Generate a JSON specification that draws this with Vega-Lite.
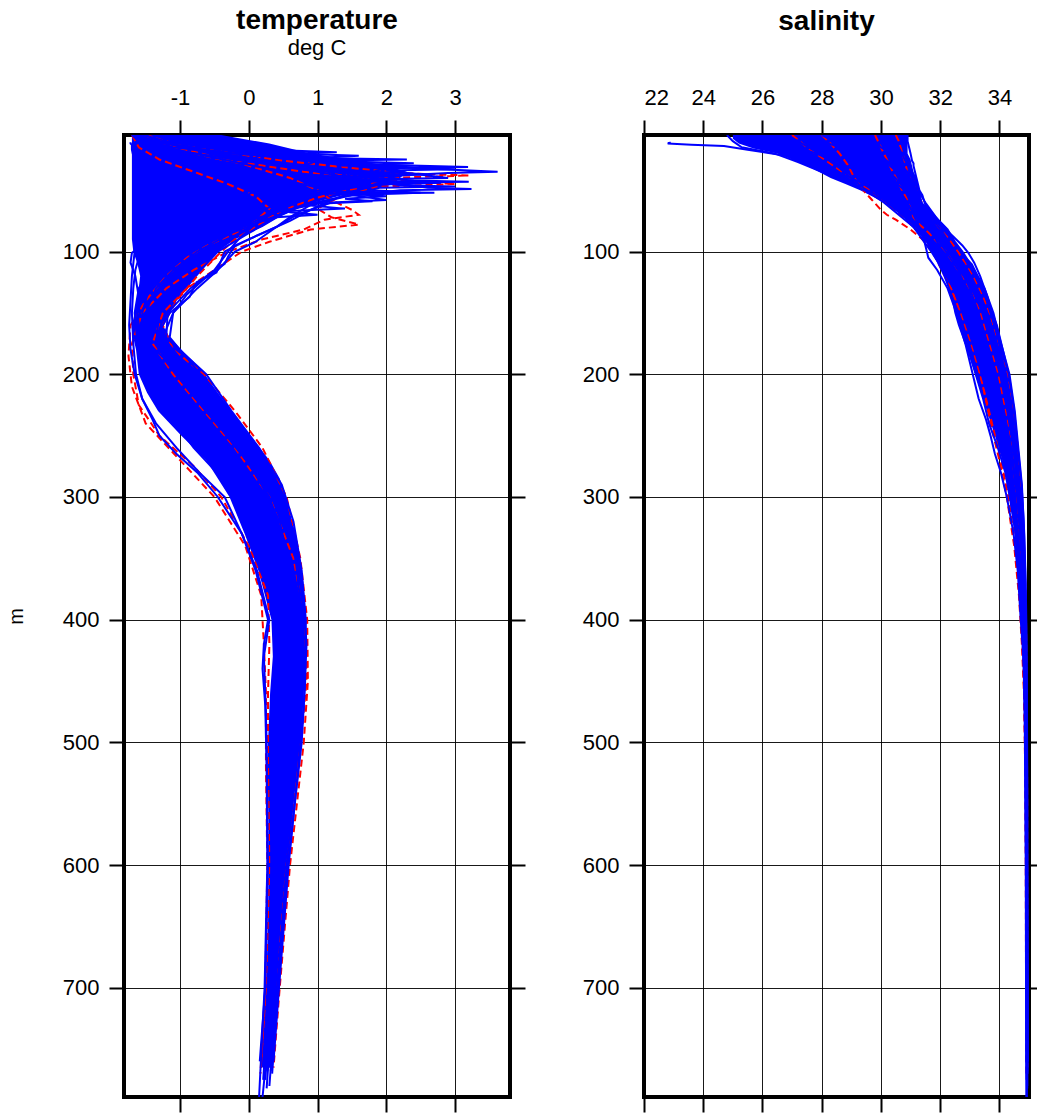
{
  "$schema": "https://vega.github.io/schema/vega-lite/v6.json",
  "background": "white",
  "padding": {"left": 4, "top": 5, "right": 0, "bottom": 2},
  "spacing": 52,
  "config": {
    "font": "Liberation Sans",
    "view": {"stroke": "black", "strokeWidth": 4},
    "axis": {
      "domain": false,
      "tickColor": "black",
      "tickWidth": 2,
      "tickSize": 15,
      "labelFontSize": 22,
      "labelColor": "black",
      "labelFont": "Liberation Sans",
      "gridColor": "black",
      "gridWidth": 1,
      "gridOpacity": 0.9,
      "titleColor": "black"
    },
    "title": {
      "font": "Liberation Sans",
      "fontSize": 28,
      "fontWeight": "bold",
      "color": "black",
      "subtitleFont": "Liberation Sans",
      "subtitleFontSize": 22,
      "subtitleColor": "black",
      "subtitlePadding": 0,
      "anchor": "middle"
    }
  },
  "datasets": {
    "envelope": [
      {"z": 5, "tlo": -1.7, "thi": -0.4, "slo": 25.0, "shi": 30.9},
      {"z": 8, "tlo": -1.7, "thi": -0.1, "slo": 25.0, "shi": 30.9},
      {"z": 12, "tlo": -1.7, "thi": 0.3, "slo": 25.2, "shi": 30.9},
      {"z": 16, "tlo": -1.7, "thi": 0.6, "slo": 25.7, "shi": 30.9},
      {"z": 20, "tlo": -1.7, "thi": 0.9, "slo": 26.5, "shi": 30.9},
      {"z": 25, "tlo": -1.7, "thi": 1.5, "slo": 27.0, "shi": 31.0},
      {"z": 30, "tlo": -1.7, "thi": 2.0, "slo": 27.5, "shi": 31.05},
      {"z": 35, "tlo": -1.7, "thi": 2.3, "slo": 27.9, "shi": 31.1},
      {"z": 40, "tlo": -1.7, "thi": 2.2, "slo": 28.3, "shi": 31.2},
      {"z": 45, "tlo": -1.7, "thi": 2.1, "slo": 28.8, "shi": 31.25},
      {"z": 50, "tlo": -1.7, "thi": 1.8, "slo": 29.3, "shi": 31.3},
      {"z": 55, "tlo": -1.7, "thi": 1.3, "slo": 29.7, "shi": 31.35},
      {"z": 60, "tlo": -1.7, "thi": 0.95, "slo": 30.1, "shi": 31.4},
      {"z": 65, "tlo": -1.7, "thi": 0.7, "slo": 30.4, "shi": 31.6},
      {"z": 70, "tlo": -1.7, "thi": 0.5, "slo": 30.7, "shi": 31.8},
      {"z": 80, "tlo": -1.7, "thi": 0.2, "slo": 31.1, "shi": 32.2},
      {"z": 90, "tlo": -1.7, "thi": -0.2, "slo": 31.5, "shi": 32.45},
      {"z": 100, "tlo": -1.68, "thi": -0.45, "slo": 31.8, "shi": 32.7},
      {"z": 110, "tlo": -1.62, "thi": -0.6, "slo": 32.0, "shi": 33.1},
      {"z": 120, "tlo": -1.58, "thi": -0.75, "slo": 32.15, "shi": 33.3},
      {"z": 130, "tlo": -1.6, "thi": -0.9, "slo": 32.3, "shi": 33.5},
      {"z": 140, "tlo": -1.63, "thi": -1.05, "slo": 32.4, "shi": 33.65},
      {"z": 150, "tlo": -1.66, "thi": -1.15, "slo": 32.48, "shi": 33.8},
      {"z": 160, "tlo": -1.7, "thi": -1.25, "slo": 32.6, "shi": 33.95},
      {"z": 170, "tlo": -1.68, "thi": -1.15, "slo": 32.75, "shi": 34.05},
      {"z": 180, "tlo": -1.64, "thi": -0.98, "slo": 32.9, "shi": 34.15},
      {"z": 190, "tlo": -1.62, "thi": -0.8, "slo": 33.05, "shi": 34.25},
      {"z": 200, "tlo": -1.6, "thi": -0.64, "slo": 33.18, "shi": 34.34},
      {"z": 215, "tlo": -1.48, "thi": -0.45, "slo": 33.38, "shi": 34.43},
      {"z": 230, "tlo": -1.32, "thi": -0.25, "slo": 33.58, "shi": 34.51},
      {"z": 250, "tlo": -0.98, "thi": 0.02, "slo": 33.85, "shi": 34.59},
      {"z": 270, "tlo": -0.62, "thi": 0.3, "slo": 34.1, "shi": 34.67},
      {"z": 285, "tlo": -0.45, "thi": 0.45, "slo": 34.25, "shi": 34.73},
      {"z": 300, "tlo": -0.28, "thi": 0.54, "slo": 34.37, "shi": 34.78},
      {"z": 330, "tlo": -0.06, "thi": 0.68, "slo": 34.55, "shi": 34.84},
      {"z": 360, "tlo": 0.14, "thi": 0.76, "slo": 34.66, "shi": 34.87},
      {"z": 400, "tlo": 0.33, "thi": 0.82, "slo": 34.76, "shi": 34.9},
      {"z": 430, "tlo": 0.35, "thi": 0.83, "slo": 34.81, "shi": 34.91},
      {"z": 460, "tlo": 0.31, "thi": 0.8, "slo": 34.84, "shi": 34.92},
      {"z": 500, "tlo": 0.28, "thi": 0.76, "slo": 34.87, "shi": 34.93},
      {"z": 540, "tlo": 0.28, "thi": 0.67, "slo": 34.88, "shi": 34.93},
      {"z": 570, "tlo": 0.29, "thi": 0.62, "slo": 34.89, "shi": 34.94},
      {"z": 600, "tlo": 0.29, "thi": 0.57, "slo": 34.89, "shi": 34.94},
      {"z": 650, "tlo": 0.28, "thi": 0.5, "slo": 34.9, "shi": 34.94},
      {"z": 700, "tlo": 0.25, "thi": 0.43, "slo": 34.9, "shi": 34.95},
      {"z": 750, "tlo": 0.19, "thi": 0.36, "slo": 34.91, "shi": 34.95},
      {"z": 765, "tlo": 0.17, "thi": 0.34, "slo": 34.91, "shi": 34.95}
    ],
    "castsA": [
      {"cast": "A1", "z": 5, "temp": -1.55, "sal": 29.6},
      {"cast": "A1", "z": 10, "temp": -1.2, "sal": 29.8},
      {"cast": "A1", "z": 15, "temp": -0.6, "sal": 30.0},
      {"cast": "A1", "z": 20, "temp": 0.3, "sal": 30.3},
      {"cast": "A1", "z": 25, "temp": 1.1, "sal": 30.5},
      {"cast": "A1", "z": 30, "temp": 2.0, "sal": 30.7},
      {"cast": "A1", "z": 33, "temp": 2.8, "sal": 30.8},
      {"cast": "A1", "z": 35, "temp": 3.62, "sal": 30.9},
      {"cast": "A1", "z": 36, "temp": 2.9, "sal": 30.95},
      {"cast": "A1", "z": 38, "temp": 2.2, "sal": 31.0},
      {"cast": "A1", "z": 42, "temp": 1.9, "sal": 31.1},
      {"cast": "A1", "z": 47, "temp": 1.4, "sal": 31.2},
      {"cast": "A1", "z": 52, "temp": 1.0, "sal": 31.3},
      {"cast": "A1", "z": 60, "temp": 0.6, "sal": 31.5},
      {"cast": "A1", "z": 70, "temp": 0.3, "sal": 31.8},
      {"cast": "A1", "z": 80, "temp": 0.05, "sal": 32.1},
      {"cast": "A1", "z": 90, "temp": -0.15, "sal": 32.4},
      {"cast": "A1", "z": 100, "temp": -0.3, "sal": 32.7},
      {"cast": "A1", "z": 115, "temp": -0.5, "sal": 33.1},
      {"cast": "A1", "z": 130, "temp": -0.85, "sal": 33.45},
      {"cast": "A1", "z": 150, "temp": -1.18, "sal": 33.7},
      {"cast": "A1", "z": 170, "temp": -1.2, "sal": 33.95},
      {"cast": "A1", "z": 200, "temp": -0.62, "sal": 34.32},
      {"cast": "A1", "z": 230, "temp": -0.25, "sal": 34.5},
      {"cast": "A1", "z": 260, "temp": 0.15, "sal": 34.62},
      {"cast": "A1", "z": 290, "temp": 0.48, "sal": 34.75},
      {"cast": "A1", "z": 320, "temp": 0.65, "sal": 34.82},
      {"cast": "A1", "z": 360, "temp": 0.77, "sal": 34.87},
      {"cast": "A1", "z": 400, "temp": 0.83, "sal": 34.9},
      {"cast": "A1", "z": 450, "temp": 0.82, "sal": 34.92},
      {"cast": "A1", "z": 500, "temp": 0.77, "sal": 34.93},
      {"cast": "A1", "z": 550, "temp": 0.67, "sal": 34.94},
      {"cast": "A1", "z": 600, "temp": 0.57, "sal": 34.94},
      {"cast": "A1", "z": 700, "temp": 0.43, "sal": 34.95},
      {"cast": "A1", "z": 770, "temp": 0.34, "sal": 34.95},
      {"cast": "A2", "z": 5, "temp": -1.6, "sal": 30.2},
      {"cast": "A2", "z": 10, "temp": -1.4, "sal": 30.4},
      {"cast": "A2", "z": 15, "temp": -0.9, "sal": 30.6},
      {"cast": "A2", "z": 20, "temp": -0.2, "sal": 30.7},
      {"cast": "A2", "z": 25, "temp": 0.8, "sal": 30.8},
      {"cast": "A2", "z": 29, "temp": 1.8, "sal": 30.9},
      {"cast": "A2", "z": 31, "temp": 3.19, "sal": 30.95},
      {"cast": "A2", "z": 32, "temp": 2.0, "sal": 31.0},
      {"cast": "A2", "z": 38, "temp": 1.6, "sal": 31.05},
      {"cast": "A2", "z": 44, "temp": 2.1, "sal": 31.1},
      {"cast": "A2", "z": 48, "temp": 2.6, "sal": 31.15},
      {"cast": "A2", "z": 49, "temp": 3.24, "sal": 31.2},
      {"cast": "A2", "z": 50, "temp": 2.2, "sal": 31.2},
      {"cast": "A2", "z": 55, "temp": 1.4, "sal": 31.3},
      {"cast": "A2", "z": 62, "temp": 0.8, "sal": 31.4},
      {"cast": "A2", "z": 72, "temp": 0.4, "sal": 31.7},
      {"cast": "A2", "z": 85, "temp": 0.0, "sal": 32.1},
      {"cast": "A2", "z": 100, "temp": -0.45, "sal": 32.5},
      {"cast": "A2", "z": 115, "temp": -0.7, "sal": 32.9},
      {"cast": "A2", "z": 130, "temp": -1.0, "sal": 33.2},
      {"cast": "A2", "z": 150, "temp": -1.3, "sal": 33.5},
      {"cast": "A2", "z": 175, "temp": -1.35, "sal": 33.8},
      {"cast": "A2", "z": 200, "temp": -0.9, "sal": 34.1},
      {"cast": "A2", "z": 230, "temp": -0.45, "sal": 34.35},
      {"cast": "A2", "z": 260, "temp": -0.05, "sal": 34.5},
      {"cast": "A2", "z": 300, "temp": 0.4, "sal": 34.7},
      {"cast": "A2", "z": 350, "temp": 0.68, "sal": 34.83},
      {"cast": "A2", "z": 400, "temp": 0.78, "sal": 34.88},
      {"cast": "A2", "z": 450, "temp": 0.75, "sal": 34.9},
      {"cast": "A2", "z": 500, "temp": 0.66, "sal": 34.92},
      {"cast": "A2", "z": 600, "temp": 0.5, "sal": 34.93},
      {"cast": "A2", "z": 700, "temp": 0.38, "sal": 34.94},
      {"cast": "A2", "z": 765, "temp": 0.3, "sal": 34.94},
      {"cast": "A3", "z": 5, "temp": -1.65, "sal": 28.5},
      {"cast": "A3", "z": 10, "temp": -1.5, "sal": 28.8},
      {"cast": "A3", "z": 15, "temp": -1.1, "sal": 29.2},
      {"cast": "A3", "z": 20, "temp": -0.3, "sal": 29.6},
      {"cast": "A3", "z": 24, "temp": 1.2, "sal": 29.9},
      {"cast": "A3", "z": 25, "temp": 2.3, "sal": 30.0},
      {"cast": "A3", "z": 26, "temp": 1.0, "sal": 30.1},
      {"cast": "A3", "z": 32, "temp": 0.7, "sal": 30.4},
      {"cast": "A3", "z": 38, "temp": 1.3, "sal": 30.7},
      {"cast": "A3", "z": 42, "temp": 2.4, "sal": 30.85},
      {"cast": "A3", "z": 43, "temp": 3.2, "sal": 30.9},
      {"cast": "A3", "z": 44, "temp": 2.1, "sal": 30.95},
      {"cast": "A3", "z": 50, "temp": 1.2, "sal": 31.1},
      {"cast": "A3", "z": 58, "temp": 0.6, "sal": 31.3},
      {"cast": "A3", "z": 66, "temp": 0.2, "sal": 31.5},
      {"cast": "A3", "z": 78, "temp": -0.2, "sal": 31.8},
      {"cast": "A3", "z": 90, "temp": -0.6, "sal": 32.1},
      {"cast": "A3", "z": 100, "temp": -0.9, "sal": 32.35},
      {"cast": "A3", "z": 115, "temp": -1.2, "sal": 32.7},
      {"cast": "A3", "z": 130, "temp": -1.45, "sal": 33.0},
      {"cast": "A3", "z": 150, "temp": -1.55, "sal": 33.3},
      {"cast": "A3", "z": 175, "temp": -1.5, "sal": 33.6},
      {"cast": "A3", "z": 200, "temp": -1.2, "sal": 33.9},
      {"cast": "A3", "z": 230, "temp": -0.8, "sal": 34.15},
      {"cast": "A3", "z": 260, "temp": -0.35, "sal": 34.38},
      {"cast": "A3", "z": 300, "temp": 0.15, "sal": 34.6},
      {"cast": "A3", "z": 350, "temp": 0.5, "sal": 34.76},
      {"cast": "A3", "z": 400, "temp": 0.62, "sal": 34.84},
      {"cast": "A3", "z": 450, "temp": 0.58, "sal": 34.88},
      {"cast": "A3", "z": 500, "temp": 0.52, "sal": 34.9},
      {"cast": "A3", "z": 600, "temp": 0.42, "sal": 34.92},
      {"cast": "A3", "z": 700, "temp": 0.33, "sal": 34.93},
      {"cast": "A3", "z": 775, "temp": 0.24, "sal": 34.93},
      {"cast": "A4", "z": 5, "temp": -1.7, "sal": 27.5},
      {"cast": "A4", "z": 10, "temp": -1.55, "sal": 28.0},
      {"cast": "A4", "z": 15, "temp": -0.8, "sal": 28.6},
      {"cast": "A4", "z": 19, "temp": 1.28, "sal": 29.0},
      {"cast": "A4", "z": 21, "temp": 0.2, "sal": 29.2},
      {"cast": "A4", "z": 30, "temp": -0.2, "sal": 29.8},
      {"cast": "A4", "z": 40, "temp": 0.4, "sal": 30.3},
      {"cast": "A4", "z": 48, "temp": 1.0, "sal": 30.7},
      {"cast": "A4", "z": 53, "temp": 1.5, "sal": 30.9},
      {"cast": "A4", "z": 55, "temp": 2.0, "sal": 31.0},
      {"cast": "A4", "z": 57, "temp": 1.4, "sal": 31.05},
      {"cast": "A4", "z": 59, "temp": 1.8, "sal": 31.1},
      {"cast": "A4", "z": 61, "temp": 1.0, "sal": 31.15},
      {"cast": "A4", "z": 68, "temp": 0.4, "sal": 31.3},
      {"cast": "A4", "z": 80, "temp": -0.3, "sal": 31.6},
      {"cast": "A4", "z": 92, "temp": -0.9, "sal": 31.9},
      {"cast": "A4", "z": 100, "temp": -1.2, "sal": 32.05},
      {"cast": "A4", "z": 115, "temp": -1.45, "sal": 32.4},
      {"cast": "A4", "z": 130, "temp": -1.6, "sal": 32.7},
      {"cast": "A4", "z": 150, "temp": -1.66, "sal": 33.0},
      {"cast": "A4", "z": 175, "temp": -1.62, "sal": 33.35},
      {"cast": "A4", "z": 200, "temp": -1.4, "sal": 33.65},
      {"cast": "A4", "z": 230, "temp": -1.1, "sal": 33.95},
      {"cast": "A4", "z": 260, "temp": -0.6, "sal": 34.2},
      {"cast": "A4", "z": 290, "temp": -0.2, "sal": 34.42},
      {"cast": "A4", "z": 330, "temp": 0.2, "sal": 34.62},
      {"cast": "A4", "z": 380, "temp": 0.45, "sal": 34.77},
      {"cast": "A4", "z": 420, "temp": 0.5, "sal": 34.84},
      {"cast": "A4", "z": 470, "temp": 0.45, "sal": 34.88},
      {"cast": "A4", "z": 550, "temp": 0.4, "sal": 34.91},
      {"cast": "A4", "z": 650, "temp": 0.36, "sal": 34.92},
      {"cast": "A4", "z": 750, "temp": 0.27, "sal": 34.93},
      {"cast": "A4", "z": 789, "temp": 0.2, "sal": 34.93},
      {"cast": "A5", "z": 11, "temp": -1.72, "sal": 22.9},
      {"cast": "A5", "z": 12, "temp": -1.72, "sal": 22.8},
      {"cast": "A5", "z": 13, "temp": -1.7, "sal": 23.6},
      {"cast": "A5", "z": 14, "temp": -1.7, "sal": 24.7},
      {"cast": "A5", "z": 17, "temp": -1.7, "sal": 25.5},
      {"cast": "A5", "z": 22, "temp": -1.68, "sal": 26.8},
      {"cast": "A5", "z": 30, "temp": -1.66, "sal": 28.0},
      {"cast": "A5", "z": 40, "temp": -1.65, "sal": 29.0},
      {"cast": "A5", "z": 50, "temp": -1.62, "sal": 29.8},
      {"cast": "A5", "z": 60, "temp": -1.6, "sal": 30.3},
      {"cast": "A5", "z": 70, "temp": -1.6, "sal": 30.8},
      {"cast": "A5", "z": 80, "temp": -1.62, "sal": 31.2},
      {"cast": "A5", "z": 90, "temp": -1.64, "sal": 31.5},
      {"cast": "A5", "z": 100, "temp": -1.66, "sal": 31.75},
      {"cast": "A5", "z": 110, "temp": -1.68, "sal": 31.95},
      {"cast": "A5", "z": 120, "temp": -1.7, "sal": 32.15},
      {"cast": "A5", "z": 140, "temp": -1.72, "sal": 32.45},
      {"cast": "A5", "z": 160, "temp": -1.74, "sal": 32.7},
      {"cast": "A5", "z": 180, "temp": -1.72, "sal": 32.95},
      {"cast": "A5", "z": 200, "temp": -1.66, "sal": 33.2},
      {"cast": "A5", "z": 220, "temp": -1.55, "sal": 33.45},
      {"cast": "A5", "z": 240, "temp": -1.35, "sal": 33.65},
      {"cast": "A5", "z": 260, "temp": -1.05, "sal": 33.95},
      {"cast": "A5", "z": 280, "temp": -0.72, "sal": 34.2},
      {"cast": "A5", "z": 300, "temp": -0.35, "sal": 34.35},
      {"cast": "A5", "z": 330, "temp": -0.1, "sal": 34.55},
      {"cast": "A5", "z": 360, "temp": 0.12, "sal": 34.66},
      {"cast": "A5", "z": 400, "temp": 0.3, "sal": 34.76},
      {"cast": "A5", "z": 430, "temp": 0.22, "sal": 34.83},
      {"cast": "A5", "z": 460, "temp": 0.24, "sal": 34.86},
      {"cast": "A5", "z": 500, "temp": 0.26, "sal": 34.88},
      {"cast": "A5", "z": 600, "temp": 0.28, "sal": 34.9},
      {"cast": "A5", "z": 700, "temp": 0.24, "sal": 34.91},
      {"cast": "A5", "z": 760, "temp": 0.16, "sal": 34.92},
      {"cast": "A6", "z": 5, "temp": -1.5, "sal": 26.0},
      {"cast": "A6", "z": 10, "temp": -1.3, "sal": 26.5},
      {"cast": "A6", "z": 15, "temp": -0.9, "sal": 27.2},
      {"cast": "A6", "z": 20, "temp": -0.4, "sal": 27.8},
      {"cast": "A6", "z": 28, "temp": 0.5, "sal": 28.6},
      {"cast": "A6", "z": 34, "temp": 1.4, "sal": 29.2},
      {"cast": "A6", "z": 37, "temp": 2.6, "sal": 29.5},
      {"cast": "A6", "z": 39, "temp": 1.5, "sal": 29.7},
      {"cast": "A6", "z": 46, "temp": 1.0, "sal": 30.2},
      {"cast": "A6", "z": 54, "temp": 0.9, "sal": 30.6},
      {"cast": "A6", "z": 62, "temp": 0.8, "sal": 30.9},
      {"cast": "A6", "z": 65, "temp": 1.4, "sal": 31.0},
      {"cast": "A6", "z": 67, "temp": 0.6, "sal": 31.1},
      {"cast": "A6", "z": 75, "temp": 0.2, "sal": 31.4},
      {"cast": "A6", "z": 85, "temp": -0.25, "sal": 31.75},
      {"cast": "A6", "z": 100, "temp": -0.75, "sal": 32.2},
      {"cast": "A6", "z": 115, "temp": -1.1, "sal": 32.6},
      {"cast": "A6", "z": 130, "temp": -1.35, "sal": 32.9},
      {"cast": "A6", "z": 150, "temp": -1.5, "sal": 33.2},
      {"cast": "A6", "z": 175, "temp": -1.45, "sal": 33.5},
      {"cast": "A6", "z": 200, "temp": -1.0, "sal": 33.85},
      {"cast": "A6", "z": 230, "temp": -0.6, "sal": 34.15},
      {"cast": "A6", "z": 260, "temp": -0.15, "sal": 34.4},
      {"cast": "A6", "z": 300, "temp": 0.3, "sal": 34.62},
      {"cast": "A6", "z": 350, "temp": 0.6, "sal": 34.78},
      {"cast": "A6", "z": 400, "temp": 0.7, "sal": 34.86},
      {"cast": "A6", "z": 450, "temp": 0.68, "sal": 34.9},
      {"cast": "A6", "z": 500, "temp": 0.6, "sal": 34.91},
      {"cast": "A6", "z": 600, "temp": 0.48, "sal": 34.93},
      {"cast": "A6", "z": 700, "temp": 0.36, "sal": 34.94},
      {"cast": "A6", "z": 782, "temp": 0.26, "sal": 34.94},
      {"cast": "A7", "z": 5, "temp": -1.6, "sal": 24.8},
      {"cast": "A7", "z": 10, "temp": -1.45, "sal": 25.0},
      {"cast": "A7", "z": 15, "temp": -1.2, "sal": 25.3},
      {"cast": "A7", "z": 20, "temp": -0.8, "sal": 26.4},
      {"cast": "A7", "z": 27, "temp": -0.2, "sal": 27.2},
      {"cast": "A7", "z": 35, "temp": 0.5, "sal": 28.0},
      {"cast": "A7", "z": 41, "temp": 1.3, "sal": 28.6},
      {"cast": "A7", "z": 44, "temp": 2.8, "sal": 28.9},
      {"cast": "A7", "z": 46, "temp": 1.6, "sal": 29.1},
      {"cast": "A7", "z": 52, "temp": 1.1, "sal": 29.6},
      {"cast": "A7", "z": 60, "temp": 0.7, "sal": 30.1},
      {"cast": "A7", "z": 70, "temp": 0.3, "sal": 30.6},
      {"cast": "A7", "z": 80, "temp": -0.1, "sal": 31.1},
      {"cast": "A7", "z": 90, "temp": -0.5, "sal": 31.5},
      {"cast": "A7", "z": 100, "temp": -0.85, "sal": 31.8},
      {"cast": "A7", "z": 115, "temp": -1.2, "sal": 32.1},
      {"cast": "A7", "z": 130, "temp": -1.5, "sal": 32.45},
      {"cast": "A7", "z": 150, "temp": -1.62, "sal": 32.8},
      {"cast": "A7", "z": 175, "temp": -1.58, "sal": 33.15},
      {"cast": "A7", "z": 200, "temp": -1.3, "sal": 33.45},
      {"cast": "A7", "z": 230, "temp": -0.95, "sal": 33.8},
      {"cast": "A7", "z": 260, "temp": -0.45, "sal": 34.1},
      {"cast": "A7", "z": 300, "temp": 0.05, "sal": 34.45},
      {"cast": "A7", "z": 350, "temp": 0.4, "sal": 34.7},
      {"cast": "A7", "z": 400, "temp": 0.55, "sal": 34.82},
      {"cast": "A7", "z": 450, "temp": 0.5, "sal": 34.87},
      {"cast": "A7", "z": 500, "temp": 0.45, "sal": 34.9},
      {"cast": "A7", "z": 600, "temp": 0.38, "sal": 34.92},
      {"cast": "A7", "z": 700, "temp": 0.3, "sal": 34.93},
      {"cast": "A7", "z": 760, "temp": 0.22, "sal": 34.93},
      {"cast": "A8", "z": 5, "temp": -1.4, "sal": 30.9},
      {"cast": "A8", "z": 10, "temp": -1.1, "sal": 30.9},
      {"cast": "A8", "z": 15, "temp": -0.6, "sal": 30.95},
      {"cast": "A8", "z": 20, "temp": 0.2, "sal": 31.0},
      {"cast": "A8", "z": 26, "temp": 1.0, "sal": 31.05},
      {"cast": "A8", "z": 28, "temp": 2.4, "sal": 31.1},
      {"cast": "A8", "z": 30, "temp": 1.3, "sal": 31.1},
      {"cast": "A8", "z": 40, "temp": 1.5, "sal": 31.2},
      {"cast": "A8", "z": 50, "temp": 1.8, "sal": 31.3},
      {"cast": "A8", "z": 52, "temp": 2.5, "sal": 31.35},
      {"cast": "A8", "z": 54, "temp": 1.5, "sal": 31.4},
      {"cast": "A8", "z": 62, "temp": 0.9, "sal": 31.5},
      {"cast": "A8", "z": 72, "temp": 0.6, "sal": 31.85},
      {"cast": "A8", "z": 82, "temp": 0.35, "sal": 32.25},
      {"cast": "A8", "z": 92, "temp": 0.1, "sal": 32.5},
      {"cast": "A8", "z": 100, "temp": -0.2, "sal": 32.75},
      {"cast": "A8", "z": 115, "temp": -0.45, "sal": 33.15},
      {"cast": "A8", "z": 130, "temp": -0.75, "sal": 33.5},
      {"cast": "A8", "z": 150, "temp": -1.1, "sal": 33.8},
      {"cast": "A8", "z": 170, "temp": -1.15, "sal": 34.0},
      {"cast": "A8", "z": 200, "temp": -0.7, "sal": 34.34},
      {"cast": "A8", "z": 230, "temp": -0.3, "sal": 34.52},
      {"cast": "A8", "z": 260, "temp": 0.08, "sal": 34.64},
      {"cast": "A8", "z": 290, "temp": 0.42, "sal": 34.76},
      {"cast": "A8", "z": 330, "temp": 0.66, "sal": 34.84},
      {"cast": "A8", "z": 370, "temp": 0.78, "sal": 34.89},
      {"cast": "A8", "z": 420, "temp": 0.84, "sal": 34.92},
      {"cast": "A8", "z": 470, "temp": 0.8, "sal": 34.93},
      {"cast": "A8", "z": 520, "temp": 0.72, "sal": 34.94},
      {"cast": "A8", "z": 600, "temp": 0.58, "sal": 34.95},
      {"cast": "A8", "z": 700, "temp": 0.44, "sal": 34.96},
      {"cast": "A8", "z": 760, "temp": 0.36, "sal": 34.96},
      {"cast": "A9", "z": 5, "temp": -1.68, "sal": 29.0},
      {"cast": "A9", "z": 10, "temp": -1.6, "sal": 29.3},
      {"cast": "A9", "z": 15, "temp": -1.3, "sal": 29.6},
      {"cast": "A9", "z": 20, "temp": -0.9, "sal": 29.9},
      {"cast": "A9", "z": 30, "temp": -0.3, "sal": 30.4},
      {"cast": "A9", "z": 40, "temp": 0.2, "sal": 30.8},
      {"cast": "A9", "z": 50, "temp": 0.1, "sal": 31.1},
      {"cast": "A9", "z": 60, "temp": -0.2, "sal": 31.35},
      {"cast": "A9", "z": 70, "temp": -0.6, "sal": 31.7},
      {"cast": "A9", "z": 80, "temp": -1.0, "sal": 32.1},
      {"cast": "A9", "z": 88, "temp": -1.3, "sal": 32.45},
      {"cast": "A9", "z": 95, "temp": -1.55, "sal": 32.75},
      {"cast": "A9", "z": 101, "temp": -1.7, "sal": 32.95},
      {"cast": "A9", "z": 109, "temp": -1.72, "sal": 33.15},
      {"cast": "A9", "z": 120, "temp": -1.65, "sal": 33.35},
      {"cast": "A9", "z": 137, "temp": -1.6, "sal": 33.6},
      {"cast": "A9", "z": 150, "temp": -1.62, "sal": 33.75},
      {"cast": "A9", "z": 170, "temp": -1.58, "sal": 33.95},
      {"cast": "A9", "z": 200, "temp": -1.25, "sal": 34.2},
      {"cast": "A9", "z": 230, "temp": -0.9, "sal": 34.38},
      {"cast": "A9", "z": 260, "temp": -0.4, "sal": 34.52},
      {"cast": "A9", "z": 300, "temp": 0.2, "sal": 34.66},
      {"cast": "A9", "z": 350, "temp": 0.55, "sal": 34.78},
      {"cast": "A9", "z": 400, "temp": 0.66, "sal": 34.85},
      {"cast": "A9", "z": 460, "temp": 0.62, "sal": 34.89},
      {"cast": "A9", "z": 520, "temp": 0.55, "sal": 34.91},
      {"cast": "A9", "z": 600, "temp": 0.45, "sal": 34.92},
      {"cast": "A9", "z": 700, "temp": 0.35, "sal": 34.93},
      {"cast": "A9", "z": 768, "temp": 0.27, "sal": 34.93},
      {"cast": "A10", "z": 5, "temp": -1.65, "sal": 28.0},
      {"cast": "A10", "z": 10, "temp": -1.55, "sal": 28.4},
      {"cast": "A10", "z": 15, "temp": -1.3, "sal": 28.9},
      {"cast": "A10", "z": 20, "temp": -1.0, "sal": 29.3},
      {"cast": "A10", "z": 30, "temp": -0.6, "sal": 29.9},
      {"cast": "A10", "z": 40, "temp": -0.2, "sal": 30.3},
      {"cast": "A10", "z": 50, "temp": 0.0, "sal": 30.6},
      {"cast": "A10", "z": 60, "temp": -0.1, "sal": 30.9},
      {"cast": "A10", "z": 70, "temp": -0.4, "sal": 31.1},
      {"cast": "A10", "z": 80, "temp": -0.8, "sal": 31.3},
      {"cast": "A10", "z": 90, "temp": -1.2, "sal": 31.45},
      {"cast": "A10", "z": 100, "temp": -1.5, "sal": 31.55},
      {"cast": "A10", "z": 105, "temp": -1.6, "sal": 31.6},
      {"cast": "A10", "z": 115, "temp": -1.65, "sal": 31.9},
      {"cast": "A10", "z": 130, "temp": -1.68, "sal": 32.25},
      {"cast": "A10", "z": 150, "temp": -1.7, "sal": 32.55},
      {"cast": "A10", "z": 175, "temp": -1.68, "sal": 32.85},
      {"cast": "A10", "z": 200, "temp": -1.64, "sal": 33.1},
      {"cast": "A10", "z": 220, "temp": -1.55, "sal": 33.3},
      {"cast": "A10", "z": 237, "temp": -1.4, "sal": 33.55},
      {"cast": "A10", "z": 250, "temp": -1.3, "sal": 33.7},
      {"cast": "A10", "z": 265, "temp": -1.05, "sal": 33.85},
      {"cast": "A10", "z": 280, "temp": -0.75, "sal": 34.05},
      {"cast": "A10", "z": 300, "temp": -0.45, "sal": 34.25},
      {"cast": "A10", "z": 330, "temp": -0.1, "sal": 34.48},
      {"cast": "A10", "z": 360, "temp": 0.1, "sal": 34.62},
      {"cast": "A10", "z": 400, "temp": 0.28, "sal": 34.72},
      {"cast": "A10", "z": 420, "temp": 0.22, "sal": 34.78},
      {"cast": "A10", "z": 440, "temp": 0.2, "sal": 34.82},
      {"cast": "A10", "z": 470, "temp": 0.24, "sal": 34.85},
      {"cast": "A10", "z": 520, "temp": 0.26, "sal": 34.87},
      {"cast": "A10", "z": 600, "temp": 0.27, "sal": 34.89},
      {"cast": "A10", "z": 700, "temp": 0.23, "sal": 34.9},
      {"cast": "A10", "z": 789, "temp": 0.15, "sal": 34.91},
      {"cast": "A11", "z": 5, "temp": -1.62, "sal": 29.9},
      {"cast": "A11", "z": 10, "temp": -1.35, "sal": 30.1},
      {"cast": "A11", "z": 16, "temp": -0.4, "sal": 30.3},
      {"cast": "A11", "z": 20, "temp": 0.6, "sal": 30.5},
      {"cast": "A11", "z": 22, "temp": 1.6, "sal": 30.55},
      {"cast": "A11", "z": 24, "temp": 0.9, "sal": 30.6},
      {"cast": "A11", "z": 30, "temp": 1.5, "sal": 30.75},
      {"cast": "A11", "z": 33, "temp": 3.0, "sal": 30.8},
      {"cast": "A11", "z": 34, "temp": 2.0, "sal": 30.85},
      {"cast": "A11", "z": 40, "temp": 2.9, "sal": 30.95},
      {"cast": "A11", "z": 41, "temp": 1.8, "sal": 31.0},
      {"cast": "A11", "z": 50, "temp": 1.6, "sal": 31.15},
      {"cast": "A11", "z": 58, "temp": 1.2, "sal": 31.3},
      {"cast": "A11", "z": 66, "temp": 0.9, "sal": 31.45},
      {"cast": "A11", "z": 75, "temp": 0.6, "sal": 31.7},
      {"cast": "A11", "z": 85, "temp": 0.2, "sal": 32.0},
      {"cast": "A11", "z": 95, "temp": -0.2, "sal": 32.35},
      {"cast": "A11", "z": 104, "temp": -0.3, "sal": 32.6},
      {"cast": "A11", "z": 110, "temp": -0.35, "sal": 32.8},
      {"cast": "A11", "z": 120, "temp": -0.6, "sal": 33.05},
      {"cast": "A11", "z": 135, "temp": -0.9, "sal": 33.35},
      {"cast": "A11", "z": 150, "temp": -1.1, "sal": 33.6},
      {"cast": "A11", "z": 170, "temp": -1.25, "sal": 33.85},
      {"cast": "A11", "z": 200, "temp": -0.8, "sal": 34.2},
      {"cast": "A11", "z": 230, "temp": -0.35, "sal": 34.42},
      {"cast": "A11", "z": 260, "temp": 0.05, "sal": 34.56},
      {"cast": "A11", "z": 300, "temp": 0.5, "sal": 34.72},
      {"cast": "A11", "z": 350, "temp": 0.72, "sal": 34.84},
      {"cast": "A11", "z": 400, "temp": 0.8, "sal": 34.89},
      {"cast": "A11", "z": 450, "temp": 0.78, "sal": 34.91},
      {"cast": "A11", "z": 500, "temp": 0.72, "sal": 34.92},
      {"cast": "A11", "z": 600, "temp": 0.55, "sal": 34.93},
      {"cast": "A11", "z": 700, "temp": 0.41, "sal": 34.94},
      {"cast": "A11", "z": 768, "temp": 0.32, "sal": 34.94},
      {"cast": "A12", "z": 5, "temp": -1.66, "sal": 28.2},
      {"cast": "A12", "z": 10, "temp": -1.5, "sal": 28.6},
      {"cast": "A12", "z": 18, "temp": -1.0, "sal": 29.2},
      {"cast": "A12", "z": 25, "temp": -0.2, "sal": 29.6},
      {"cast": "A12", "z": 32, "temp": 0.8, "sal": 30.0},
      {"cast": "A12", "z": 36, "temp": 1.6, "sal": 30.3},
      {"cast": "A12", "z": 38, "temp": 2.2, "sal": 30.4},
      {"cast": "A12", "z": 39, "temp": 1.4, "sal": 30.45},
      {"cast": "A12", "z": 46, "temp": 2.2, "sal": 30.7},
      {"cast": "A12", "z": 47, "temp": 3.0, "sal": 30.75},
      {"cast": "A12", "z": 48, "temp": 1.9, "sal": 30.8},
      {"cast": "A12", "z": 54, "temp": 1.5, "sal": 31.0},
      {"cast": "A12", "z": 58, "temp": 2.0, "sal": 31.1},
      {"cast": "A12", "z": 60, "temp": 1.2, "sal": 31.15},
      {"cast": "A12", "z": 70, "temp": 0.7, "sal": 31.4},
      {"cast": "A12", "z": 80, "temp": 0.4, "sal": 31.7},
      {"cast": "A12", "z": 90, "temp": 0.0, "sal": 32.0},
      {"cast": "A12", "z": 100, "temp": -0.35, "sal": 32.3},
      {"cast": "A12", "z": 117, "temp": -0.47, "sal": 32.7},
      {"cast": "A12", "z": 125, "temp": -0.76, "sal": 32.95},
      {"cast": "A12", "z": 137, "temp": -0.86, "sal": 33.2},
      {"cast": "A12", "z": 150, "temp": -1.15, "sal": 33.45},
      {"cast": "A12", "z": 165, "temp": -1.3, "sal": 33.7},
      {"cast": "A12", "z": 190, "temp": -1.2, "sal": 33.95},
      {"cast": "A12", "z": 215, "temp": -0.85, "sal": 34.2},
      {"cast": "A12", "z": 245, "temp": -0.4, "sal": 34.4},
      {"cast": "A12", "z": 280, "temp": 0.1, "sal": 34.58},
      {"cast": "A12", "z": 320, "temp": 0.45, "sal": 34.72},
      {"cast": "A12", "z": 370, "temp": 0.65, "sal": 34.83},
      {"cast": "A12", "z": 420, "temp": 0.7, "sal": 34.88},
      {"cast": "A12", "z": 480, "temp": 0.65, "sal": 34.91},
      {"cast": "A12", "z": 550, "temp": 0.55, "sal": 34.92},
      {"cast": "A12", "z": 650, "temp": 0.44, "sal": 34.93},
      {"cast": "A12", "z": 750, "temp": 0.34, "sal": 34.94},
      {"cast": "A12", "z": 780, "temp": 0.3, "sal": 34.94},
      {"cast": "A13", "z": 5, "temp": -1.7, "sal": 26.8},
      {"cast": "A13", "z": 10, "temp": -1.6, "sal": 27.2},
      {"cast": "A13", "z": 20, "temp": -1.3, "sal": 27.9},
      {"cast": "A13", "z": 30, "temp": -0.9, "sal": 28.5},
      {"cast": "A13", "z": 40, "temp": -0.4, "sal": 29.0},
      {"cast": "A13", "z": 48, "temp": 0.3, "sal": 29.4},
      {"cast": "A13", "z": 51, "temp": 1.2, "sal": 29.6},
      {"cast": "A13", "z": 52, "temp": 2.7, "sal": 29.7},
      {"cast": "A13", "z": 53, "temp": 1.0, "sal": 29.8},
      {"cast": "A13", "z": 60, "temp": 0.5, "sal": 30.2},
      {"cast": "A13", "z": 68, "temp": 0.6, "sal": 30.6},
      {"cast": "A13", "z": 70, "temp": 1.0, "sal": 30.7},
      {"cast": "A13", "z": 72, "temp": 0.4, "sal": 30.8},
      {"cast": "A13", "z": 80, "temp": -0.1, "sal": 31.1},
      {"cast": "A13", "z": 90, "temp": -0.6, "sal": 31.4},
      {"cast": "A13", "z": 100, "temp": -1.0, "sal": 31.7},
      {"cast": "A13", "z": 115, "temp": -1.35, "sal": 32.1},
      {"cast": "A13", "z": 130, "temp": -1.55, "sal": 32.45},
      {"cast": "A13", "z": 150, "temp": -1.65, "sal": 32.75},
      {"cast": "A13", "z": 175, "temp": -1.6, "sal": 33.1},
      {"cast": "A13", "z": 200, "temp": -1.45, "sal": 33.4},
      {"cast": "A13", "z": 230, "temp": -1.2, "sal": 33.75},
      {"cast": "A13", "z": 260, "temp": -0.8, "sal": 34.05},
      {"cast": "A13", "z": 290, "temp": -0.3, "sal": 34.32},
      {"cast": "A13", "z": 330, "temp": 0.05, "sal": 34.55},
      {"cast": "A13", "z": 380, "temp": 0.35, "sal": 34.72},
      {"cast": "A13", "z": 430, "temp": 0.4, "sal": 34.82},
      {"cast": "A13", "z": 480, "temp": 0.36, "sal": 34.86},
      {"cast": "A13", "z": 550, "temp": 0.34, "sal": 34.89},
      {"cast": "A13", "z": 650, "temp": 0.32, "sal": 34.91},
      {"cast": "A13", "z": 750, "temp": 0.24, "sal": 34.92},
      {"cast": "A13", "z": 775, "temp": 0.21, "sal": 34.92}
    ],
    "castsB": [
      {"cast": "B1", "z": 5, "temp": -1.6, "sal": 28.0},
      {"cast": "B1", "z": 12, "temp": -1.3, "sal": 28.3},
      {"cast": "B1", "z": 20, "temp": -0.7, "sal": 28.6},
      {"cast": "B1", "z": 30, "temp": 0.0, "sal": 28.9},
      {"cast": "B1", "z": 40, "temp": 0.6, "sal": 29.1},
      {"cast": "B1", "z": 50, "temp": 1.0, "sal": 29.4},
      {"cast": "B1", "z": 58, "temp": 1.2, "sal": 29.7},
      {"cast": "B1", "z": 66, "temp": 1.5, "sal": 30.0},
      {"cast": "B1", "z": 70, "temp": 1.6, "sal": 30.2},
      {"cast": "B1", "z": 74, "temp": 1.1, "sal": 30.5},
      {"cast": "B1", "z": 82, "temp": 0.8, "sal": 31.0},
      {"cast": "B1", "z": 90, "temp": 0.2, "sal": 31.4},
      {"cast": "B1", "z": 100, "temp": -0.3, "sal": 31.75},
      {"cast": "B1", "z": 115, "temp": -0.8, "sal": 32.05},
      {"cast": "B1", "z": 130, "temp": -1.2, "sal": 32.35},
      {"cast": "B1", "z": 150, "temp": -1.55, "sal": 32.7},
      {"cast": "B1", "z": 175, "temp": -1.7, "sal": 33.05},
      {"cast": "B1", "z": 200, "temp": -1.68, "sal": 33.35},
      {"cast": "B1", "z": 225, "temp": -1.6, "sal": 33.6},
      {"cast": "B1", "z": 250, "temp": -1.3, "sal": 33.85},
      {"cast": "B1", "z": 275, "temp": -0.8, "sal": 34.1},
      {"cast": "B1", "z": 300, "temp": -0.4, "sal": 34.3},
      {"cast": "B1", "z": 340, "temp": 0.0, "sal": 34.55},
      {"cast": "B1", "z": 380, "temp": 0.28, "sal": 34.7},
      {"cast": "B1", "z": 420, "temp": 0.3, "sal": 34.78},
      {"cast": "B1", "z": 460, "temp": 0.28, "sal": 34.84},
      {"cast": "B1", "z": 520, "temp": 0.28, "sal": 34.88},
      {"cast": "B1", "z": 600, "temp": 0.3, "sal": 34.9},
      {"cast": "B1", "z": 700, "temp": 0.25, "sal": 34.91},
      {"cast": "B1", "z": 760, "temp": 0.18, "sal": 34.92},
      {"cast": "B2", "z": 5, "temp": -1.5, "sal": 30.5},
      {"cast": "B2", "z": 10, "temp": -1.2, "sal": 30.6},
      {"cast": "B2", "z": 18, "temp": -0.5, "sal": 30.7},
      {"cast": "B2", "z": 26, "temp": 0.5, "sal": 30.8},
      {"cast": "B2", "z": 36, "temp": 2.2, "sal": 30.9},
      {"cast": "B2", "z": 38, "temp": 3.2, "sal": 31.0},
      {"cast": "B2", "z": 40, "temp": 2.0, "sal": 31.05},
      {"cast": "B2", "z": 48, "temp": 1.6, "sal": 31.2},
      {"cast": "B2", "z": 56, "temp": 1.0, "sal": 31.3},
      {"cast": "B2", "z": 66, "temp": 0.5, "sal": 31.5},
      {"cast": "B2", "z": 76, "temp": 0.2, "sal": 31.8},
      {"cast": "B2", "z": 90, "temp": -0.2, "sal": 32.3},
      {"cast": "B2", "z": 100, "temp": -0.4, "sal": 32.6},
      {"cast": "B2", "z": 120, "temp": -0.75, "sal": 33.1},
      {"cast": "B2", "z": 140, "temp": -1.05, "sal": 33.5},
      {"cast": "B2", "z": 160, "temp": -1.25, "sal": 33.8},
      {"cast": "B2", "z": 180, "temp": -1.1, "sal": 34.05},
      {"cast": "B2", "z": 200, "temp": -0.65, "sal": 34.3},
      {"cast": "B2", "z": 230, "temp": -0.2, "sal": 34.5},
      {"cast": "B2", "z": 260, "temp": 0.2, "sal": 34.62},
      {"cast": "B2", "z": 300, "temp": 0.55, "sal": 34.76},
      {"cast": "B2", "z": 350, "temp": 0.75, "sal": 34.85},
      {"cast": "B2", "z": 400, "temp": 0.85, "sal": 34.9},
      {"cast": "B2", "z": 450, "temp": 0.86, "sal": 34.92},
      {"cast": "B2", "z": 500, "temp": 0.8, "sal": 34.93},
      {"cast": "B2", "z": 550, "temp": 0.7, "sal": 34.94},
      {"cast": "B2", "z": 600, "temp": 0.6, "sal": 34.94},
      {"cast": "B2", "z": 700, "temp": 0.45, "sal": 34.95},
      {"cast": "B2", "z": 765, "temp": 0.36, "sal": 34.95},
      {"cast": "B3", "z": 5, "temp": -1.7, "sal": 27.0},
      {"cast": "B3", "z": 15, "temp": -1.6, "sal": 27.5},
      {"cast": "B3", "z": 25, "temp": -1.3, "sal": 28.1},
      {"cast": "B3", "z": 35, "temp": -0.8, "sal": 28.7},
      {"cast": "B3", "z": 45, "temp": -0.3, "sal": 29.3},
      {"cast": "B3", "z": 55, "temp": 0.1, "sal": 29.9},
      {"cast": "B3", "z": 65, "temp": 0.3, "sal": 30.4},
      {"cast": "B3", "z": 75, "temp": 0.1, "sal": 30.9},
      {"cast": "B3", "z": 85, "temp": -0.2, "sal": 31.3},
      {"cast": "B3", "z": 95, "temp": -0.6, "sal": 31.6},
      {"cast": "B3", "z": 105, "temp": -0.9, "sal": 31.85},
      {"cast": "B3", "z": 120, "temp": -1.2, "sal": 32.2},
      {"cast": "B3", "z": 140, "temp": -1.5, "sal": 32.55},
      {"cast": "B3", "z": 160, "temp": -1.72, "sal": 32.9},
      {"cast": "B3", "z": 185, "temp": -1.75, "sal": 33.2},
      {"cast": "B3", "z": 210, "temp": -1.7, "sal": 33.45},
      {"cast": "B3", "z": 240, "temp": -1.5, "sal": 33.7},
      {"cast": "B3", "z": 270, "temp": -1.0, "sal": 34.0},
      {"cast": "B3", "z": 300, "temp": -0.5, "sal": 34.25},
      {"cast": "B3", "z": 340, "temp": -0.05, "sal": 34.5},
      {"cast": "B3", "z": 380, "temp": 0.18, "sal": 34.66},
      {"cast": "B3", "z": 420, "temp": 0.22, "sal": 34.76},
      {"cast": "B3", "z": 460, "temp": 0.25, "sal": 34.83},
      {"cast": "B3", "z": 520, "temp": 0.25, "sal": 34.87},
      {"cast": "B3", "z": 600, "temp": 0.27, "sal": 34.89},
      {"cast": "B3", "z": 700, "temp": 0.24, "sal": 34.9},
      {"cast": "B3", "z": 770, "temp": 0.17, "sal": 34.91},
      {"cast": "B4", "z": 5, "temp": -1.55, "sal": 29.8},
      {"cast": "B4", "z": 15, "temp": -1.2, "sal": 30.0},
      {"cast": "B4", "z": 25, "temp": -0.4, "sal": 30.2},
      {"cast": "B4", "z": 35, "temp": 0.8, "sal": 30.4},
      {"cast": "B4", "z": 42, "temp": 2.2, "sal": 30.55},
      {"cast": "B4", "z": 45, "temp": 3.0, "sal": 30.6},
      {"cast": "B4", "z": 47, "temp": 1.9, "sal": 30.65},
      {"cast": "B4", "z": 56, "temp": 1.3, "sal": 30.85},
      {"cast": "B4", "z": 65, "temp": 1.0, "sal": 31.0},
      {"cast": "B4", "z": 72, "temp": 1.2, "sal": 31.1},
      {"cast": "B4", "z": 78, "temp": 1.6, "sal": 31.3},
      {"cast": "B4", "z": 82, "temp": 0.9, "sal": 31.5},
      {"cast": "B4", "z": 92, "temp": 0.3, "sal": 31.9},
      {"cast": "B4", "z": 100, "temp": -0.1, "sal": 32.2},
      {"cast": "B4", "z": 115, "temp": -0.5, "sal": 32.6},
      {"cast": "B4", "z": 130, "temp": -0.9, "sal": 33.0},
      {"cast": "B4", "z": 150, "temp": -1.25, "sal": 33.35},
      {"cast": "B4", "z": 175, "temp": -1.4, "sal": 33.65},
      {"cast": "B4", "z": 200, "temp": -1.1, "sal": 33.95},
      {"cast": "B4", "z": 230, "temp": -0.65, "sal": 34.2},
      {"cast": "B4", "z": 260, "temp": -0.2, "sal": 34.4},
      {"cast": "B4", "z": 300, "temp": 0.3, "sal": 34.6},
      {"cast": "B4", "z": 350, "temp": 0.65, "sal": 34.76},
      {"cast": "B4", "z": 400, "temp": 0.82, "sal": 34.84},
      {"cast": "B4", "z": 450, "temp": 0.84, "sal": 34.88},
      {"cast": "B4", "z": 500, "temp": 0.76, "sal": 34.9},
      {"cast": "B4", "z": 600, "temp": 0.55, "sal": 34.92},
      {"cast": "B4", "z": 700, "temp": 0.4, "sal": 34.93},
      {"cast": "B4", "z": 760, "temp": 0.32, "sal": 34.93}
    ]
  },
  "hconcat": [
    {
      "width": 386,
      "height": 962,
      "title": {"text": "temperature", "subtitle": "deg C", "offset": 27},
      "layer": [
        {
          "data": {"name": "envelope"},
          "mark": {"type": "area", "orient": "horizontal", "color": "#0000ff", "clip": true},
          "encoding": {
            "x": {"field": "tlo", "type": "quantitative",
                  "scale": {"domain": [-1.815, 3.8], "nice": false, "zero": false},
                  "axis": {"orient": "top", "values": [-1, 0, 1, 2, 3], "title": null, "grid": true, "labelPadding": 11,
                           "labelExpr": "'' + datum.value"}},
            "x2": {"field": "thi"},
            "y": {"field": "z", "type": "quantitative",
                  "scale": {"domain": [5, 789], "reverse": true, "nice": false, "zero": false},
                  "axis": {"orient": "left", "values": [100, 200, 300, 400, 500, 600, 700], "title": "m", "grid": true,
                           "labelPadding": 10, "titleFontSize": 20, "titleFontWeight": "normal", "titlePadding": 36}}
          }
        },
        {
          "data": {"name": "castsB"},
          "mark": {"type": "line", "color": "#ff0000", "strokeWidth": 2, "strokeDash": [7, 4], "clip": true},
          "encoding": {
            "x": {"field": "temp", "type": "quantitative",
                  "scale": {"domain": [-1.815, 3.8], "nice": false, "zero": false},
                  "axis": {"orient": "bottom", "values": [-1, 0, 1, 2, 3], "title": null, "grid": false, "labels": false}},
            "y": {"field": "z", "type": "quantitative",
                  "scale": {"domain": [5, 789], "reverse": true, "nice": false, "zero": false},
                  "axis": {"orient": "right", "values": [100, 200, 300, 400, 500, 600, 700], "title": null, "grid": false, "labels": false}},
            "detail": {"field": "cast"},
            "order": {"field": "z"}
          }
        },
        {
          "data": {"name": "castsA"},
          "mark": {"type": "line", "color": "#0000ff", "strokeWidth": 2, "clip": true},
          "encoding": {
            "x": {"field": "temp", "type": "quantitative",
                  "scale": {"domain": [-1.815, 3.8], "nice": false, "zero": false}, "axis": null},
            "y": {"field": "z", "type": "quantitative",
                  "scale": {"domain": [5, 789], "reverse": true, "nice": false, "zero": false}, "axis": null},
            "detail": {"field": "cast"},
            "order": {"field": "z"}
          }
        }
      ],
      "resolve": {"axis": {"x": "independent", "y": "independent"}}
    },
    {
      "width": 385,
      "height": 962,
      "title": {"text": "salinity", "offset": 50, "dx": -10},
      "layer": [
        {
          "data": {"name": "envelope"},
          "mark": {"type": "area", "orient": "horizontal", "color": "#0000ff", "clip": true},
          "encoding": {
            "x": {"field": "slo", "type": "quantitative",
                  "scale": {"domain": [22, 35], "nice": false, "zero": false},
                  "axis": {"orient": "top", "values": [22, 24, 26, 28, 30, 32, 34], "title": null, "grid": true, "labelPadding": 11}},
            "x2": {"field": "shi"},
            "y": {"field": "z", "type": "quantitative",
                  "scale": {"domain": [5, 789], "reverse": true, "nice": false, "zero": false},
                  "axis": {"orient": "left", "values": [100, 200, 300, 400, 500, 600, 700], "title": null, "grid": true, "labelPadding": 10}}
          }
        },
        {
          "data": {"name": "castsB"},
          "mark": {"type": "line", "color": "#ff0000", "strokeWidth": 2, "strokeDash": [7, 4], "clip": true},
          "encoding": {
            "x": {"field": "sal", "type": "quantitative",
                  "scale": {"domain": [22, 35], "nice": false, "zero": false},
                  "axis": {"orient": "bottom", "values": [22, 24, 26, 28, 30, 32, 34], "title": null, "grid": false, "labels": false}},
            "y": {"field": "z", "type": "quantitative",
                  "scale": {"domain": [5, 789], "reverse": true, "nice": false, "zero": false},
                  "axis": {"orient": "right", "values": [100, 200, 300, 400, 500, 600, 700], "title": null, "grid": false, "labels": false, "tickSize": 8}},
            "detail": {"field": "cast"},
            "order": {"field": "z"}
          }
        },
        {
          "data": {"name": "castsA"},
          "mark": {"type": "line", "color": "#0000ff", "strokeWidth": 2, "clip": true},
          "encoding": {
            "x": {"field": "sal", "type": "quantitative",
                  "scale": {"domain": [22, 35], "nice": false, "zero": false}, "axis": null},
            "y": {"field": "z", "type": "quantitative",
                  "scale": {"domain": [5, 789], "reverse": true, "nice": false, "zero": false}, "axis": null},
            "detail": {"field": "cast"},
            "order": {"field": "z"}
          }
        }
      ],
      "resolve": {"axis": {"x": "independent", "y": "independent"}}
    }
  ]
}
